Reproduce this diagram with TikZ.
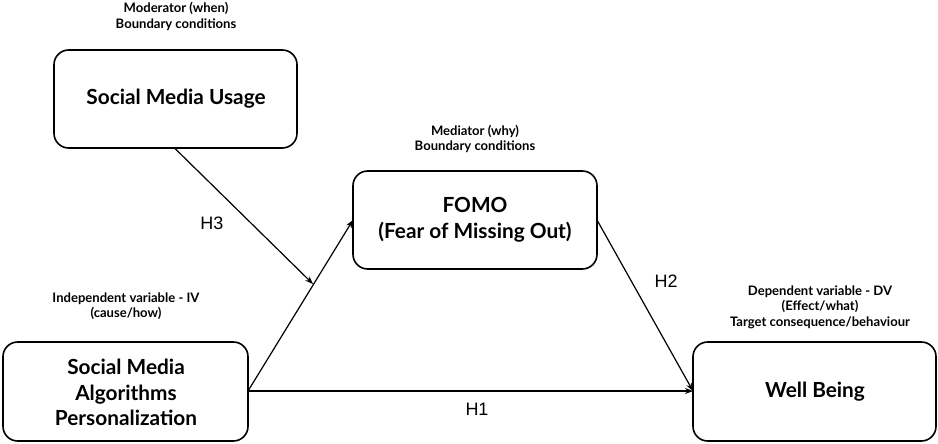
\documentclass[tikz,border=0pt]{standalone}
\usepackage{fontspec}
\setmainfont{Lato}
\newfontfamily\hfont{Liberation Sans}
\usetikzlibrary{arrows.meta}
\begin{document}
\begin{tikzpicture}[x=0.75pt,y=-0.75pt,
  box/.style={draw,line width=1.2pt,rounded corners=11pt},
  title/.style={font=\bfseries\fontsize{15.6}{19.3}\selectfont,align=center,inner sep=0pt},
  note/.style={font=\bfseries\fontsize{9.8}{11.6}\selectfont,align=center,inner sep=0pt},
  hyp/.style={font=\hfont\fontsize{13.5}{15}\selectfont,inner sep=0pt},
  arr/.style={line width=0.9pt,-{Stealth[length=6pt,width=4.5pt]}}]
\useasboundingbox (0,0) rectangle (938,443);
% boxes
\draw[box] (54,50) rectangle (297,148);
\draw[box] (353,171) rectangle (597,269);
\draw[box] (3,342) rectangle (248,441);
\draw[box] (693,342) rectangle (936,441);
\coordinate (smuB) at (175,148.5);
\coordinate (ivR) at (248,391);
\coordinate (fomoL) at (353,220);
\coordinate (fomoR) at (597,220);
\coordinate (wbL) at (693,391);
\coordinate (mod) at (313,284);
% texts
\node[title] (smu) at (176,99) {Social Media Usage};
\node[title] (fomo) at (475,220) {FOMO\\(Fear of Missing Out)};
\node[title] (iv) at (126,392.5) {Social Media\\Algorithms\\Personalization};
\node[title] (wb) at (815,392) {Well Being};
\node[note] (n1) at (176,16.5) {Moderator (when)\\Boundary conditions};
\node[note] (n2) at (475,139) {Mediator (why)\\Boundary conditions};
\node[note] (n3) at (126,306) {Independent variable - IV\\(cause/how)};
\node[note] (n4) at (820,307) {Dependent variable - DV\\(Effect/what)\\Target consequence/behaviour};
% connectors
\draw[arr] (ivR) -- (fomoL);
\draw[arr] (ivR) -- (wbL);
\draw[arr] (fomoR) -- (wbL);
\draw[arr] (smuB) -- (mod);
\node[hyp] (h3) at (212,223) {H3};
\node[hyp] (h2) at (666,281) {H2};
\node[hyp] (h1) at (477,409) {H1};
\end{tikzpicture}
\end{document}
